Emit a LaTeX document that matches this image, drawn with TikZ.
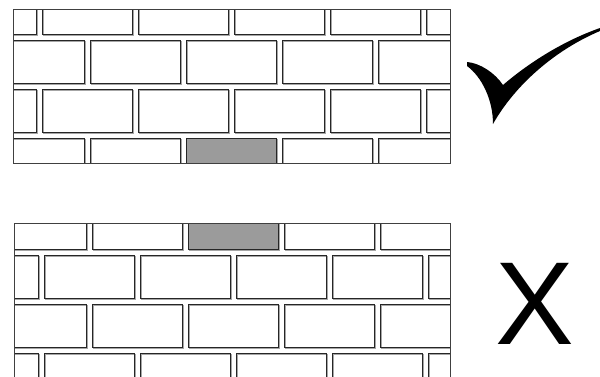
\documentclass[tikz,border=0pt]{standalone}
\usepackage{fontspec}
\setmainfont{Liberation Sans}
\definecolor{brickgray}{RGB}{155,155,155}
\begin{document}
\begin{tikzpicture}[x=1pt,y=-1pt,
  brick/.style={draw=black!85,line width=0.8pt},
  brickshadow/.style={draw=black!35,line width=0.8pt},
  wallframe/.style={draw=black!75,line width=0.9pt}]
\useasboundingbox (0,0) rectangle (600,376);
\fill[white] (0,0) rectangle (600,376);
% top wall
\begin{scope}
\clip (13,9) rectangle (450,163);
\foreach \y/\s in {-9/-54, 40/-6, 89/-54, 138/-6} {
  \foreach \i in {0,...,5} {
    \draw[brickshadow] ({\s+96*\i+1},{\y+1}) rectangle ++(90,43);
    \draw[brick] ({\s+96*\i},\y) rectangle ++(90,43);
  }
}
\filldraw[brick,fill=brickgray] (186,138) rectangle ++(90,43);
\end{scope}
\draw[wallframe] (13,9) rectangle (450,163);
% bottom wall
\begin{scope}
\clip (14,223) rectangle (450,380);
\foreach \y/\s in {206/-4, 255/-52, 304/-4, 353/-52} {
  \foreach \i in {0,...,5} {
    \draw[brickshadow] ({\s+96*\i+1},{\y+1}) rectangle ++(90,43);
    \draw[brick] ({\s+96*\i},\y) rectangle ++(90,43);
  }
}
\filldraw[brick,fill=brickgray] (188,206) rectangle ++(90,43);
\end{scope}
\draw[wallframe] (14,380) -- (14,223) -- (450,223) -- (450,380);
% check mark
\fill[black] (467,62) .. controls (480,63) and (495,73) .. (503,85)
  .. controls (525,66) and (560,42) .. (600,28)
  -- (600,31)
  .. controls (555,50) and (515,85) .. (493,124)
  .. controls (493,100) and (482,77) .. (467,66) -- cycle;
% cross
\node[inner sep=0pt,anchor=center,font=\fontsize{118}{118}\selectfont] (cross) at (534.5,303.5) {X};
\end{tikzpicture}
\end{document}
